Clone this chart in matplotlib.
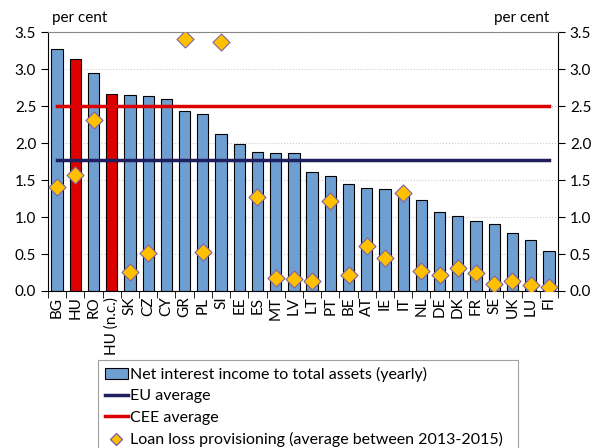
import numpy as np
import matplotlib.pyplot as plt
from matplotlib.lines import Line2D
from matplotlib.patches import Patch

plt.rcParams['font.family'] = ['Lato', 'DejaVu Sans']

paises = ['BG', 'HU', 'RO', 'HU (n.c.)', 'SK', 'CZ', 'CY', 'GR', 'PL', 'SI', 'EE', 'ES',
          'MT', 'LV', 'LT', 'PT', 'BE', 'AT', 'IE', 'IT', 'NL', 'DE', 'DK', 'FR', 'SE',
          'UK', 'LU', 'FI']
nii = [3.27, 3.14, 2.95, 2.66, 2.65, 2.64, 2.59, 2.43, 2.39, 2.12, 1.99, 1.88,
       1.87, 1.87, 1.61, 1.56, 1.44, 1.39, 1.38, 1.31, 1.23, 1.07, 1.02, 0.94, 0.91,
       0.78, 0.69, 0.54]
llp = [1.41, 1.57, 2.31, np.nan, 0.26, 0.51, np.nan, 3.40, 0.53, 3.37, np.nan, 1.27,
       0.18, 0.16, 0.13, 1.22, 0.22, 0.61, 0.45, 1.32, 0.27, 0.22, 0.31, 0.24, 0.09,
       0.14, 0.08, 0.05]
destaque = ['HU', 'HU (n.c.)']
eu_media = 1.77
cee_media = 2.50

azul = '#6f9fd1'
vermelho = '#dd0000'
x = np.arange(len(paises))
cores = [vermelho if p in destaque else azul for p in paises]

fig = plt.figure(figsize=(5.98, 4.48), dpi=100)
ax = fig.add_axes([48/598, 1 - 291/448, 510/598, 259/448])

ax.bar(x, nii, width=0.62, color=cores, edgecolor='black', linewidth=0.8, zorder=2)
ax.plot([x[0], x[-1]], [eu_media, eu_media], color='#1f1f5f', lw=2.5, zorder=3)
ax.plot([x[0], x[-1]], [cee_media, cee_media], color=vermelho, lw=2.5, zorder=3)
ax.scatter(x, llp, marker='D', s=75, color='#ffc000', edgecolor='#8064a2',
           linewidth=0.8, zorder=4)

ax.set_xlim(-0.5, len(paises) - 0.5)
ax.set_ylim(0, 3.5)
ax.set_yticks(np.arange(0, 3.51, 0.5))
ax.set_yticklabels([f'{v:.1f}' for v in np.arange(0, 3.51, 0.5)], fontsize=11)
ax.yaxis.grid(True, color='#cccccc', linestyle=':', linewidth=0.8, zorder=0)
ax.set_axisbelow(True)

ax.set_xticks(x)
ax.set_xticklabels(paises, rotation=90, fontsize=11)
ax.tick_params(axis='x', length=0, pad=4)
ax.set_xticks(np.arange(-0.5, len(paises), 1), minor=True)
ax.tick_params(axis='x', which='minor', length=5, direction='out')
ax.tick_params(axis='y', length=5, direction='out', right=True, labelright=True)

ax.spines['top'].set_color('#888888')
for s in ['left', 'right', 'bottom']:
    ax.spines[s].set_color('black')

fig.text(52/598, 1 - 18/448, 'per cent', fontsize=11, va='center', ha='left')
fig.text(549/598, 1 - 18/448, 'per cent', fontsize=11, va='center', ha='right')

handles = [Patch(facecolor=azul, edgecolor='black', linewidth=0.8),
           Line2D([0], [0], color='#1f1f5f', lw=2.5),
           Line2D([0], [0], color=vermelho, lw=2.5),
           Line2D([0], [0], marker='D', color='none', markerfacecolor='#ffc000',
                  markeredgecolor='#8064a2', markersize=6)]
rotulos = ['Net interest income to total assets (yearly)', 'EU average', 'CEE average',
           'Loan loss provisioning (average between 2013-2015)']
leg = fig.legend(handles, rotulos, loc='upper left',
                 bbox_to_anchor=(98/598, 1 - 364/448, 420/598, 0.01), mode='expand',
                 fontsize=11.5, frameon=True, fancybox=False, edgecolor='#888888',
                 handlelength=1.4, handletextpad=0.15, labelspacing=0.46, borderpad=0.45,
                 borderaxespad=0)
leg.get_frame().set_linewidth(0.8)

fig.savefig('out.png', dpi=100)
